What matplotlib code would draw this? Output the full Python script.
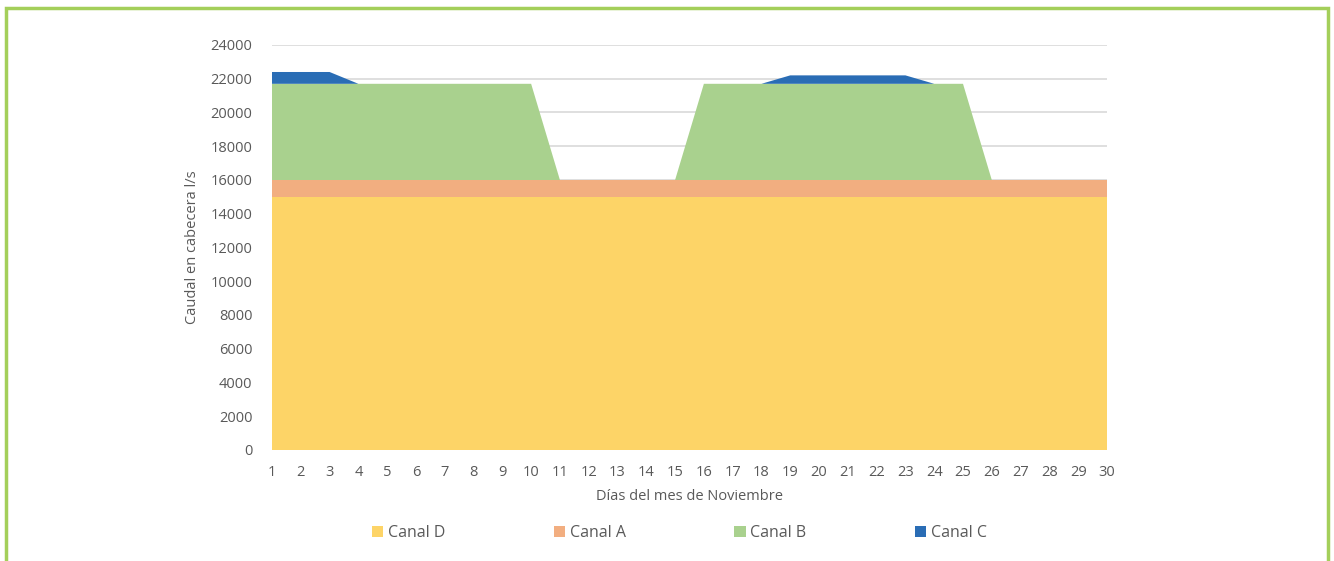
import numpy as np
import matplotlib.pyplot as plt
from matplotlib.patches import Rectangle

# Caudal diario por canal (l/s), noviembre
dias = np.arange(1, 31)
canal_d = [15000] * 30
canal_a = [1000] * 30
canal_b = [5700] * 10 + [0] * 5 + [5700] * 10 + [0] * 5
canal_c = [700] * 3 + [0] * 15 + [500] * 5 + [0] * 7

colores = ['#fdd467', '#f2ae80', '#a9d18e', '#2a6db5']
nombres = ['Canal D', 'Canal A', 'Canal B', 'Canal C']

plt.rcParams['font.family'] = ['Open Sans', 'DejaVu Sans']

fig = plt.figure(figsize=(13.34, 5.61), dpi=100)
ax = fig.add_axes([0.2039, 0.1979, 0.6259, 0.7219])

ax.stackplot(dias, canal_d, canal_a, canal_b, canal_c,
             colors=colores, labels=nombres, zorder=2)

ax.set_xlim(1, 30)
ax.set_ylim(0, 24000)
ax.set_xticks(dias)
ax.set_yticks(np.arange(0, 24001, 2000))
ax.grid(axis='y', color='#d9d9d9', linewidth=1.2, zorder=0)
ax.set_axisbelow(True)
for s in ax.spines.values():
    s.set_visible(False)
ax.tick_params(length=0, colors='#595959', labelsize=10.5)
ax.tick_params(axis='x', pad=11)
ax.tick_params(axis='y', pad=14)

ax.set_xlabel('Días del mes de Noviembre', color='#595959', fontsize=10.5, labelpad=6)
ax.set_ylabel('Caudal en cabecera l/s', color='#595959', fontsize=10.5, labelpad=8)

leg = ax.legend(loc='upper center', bbox_to_anchor=(0.488, -0.15), ncol=4,
                frameon=False, fontsize=11.5, handlelength=0.7, handleheight=0.7,
                handletextpad=0.3, columnspacing=6.8, labelcolor='#595959')

# marco verde alrededor del gráfico
fig.patches.append(Rectangle((6 / 1334, -0.05), 1322 / 1334, 1 - 8 / 561 + 0.05,
                             transform=fig.transFigure, fill=False,
                             edgecolor='#a4cf5a', linewidth=2.5))

fig.savefig('out.png', dpi=100)
